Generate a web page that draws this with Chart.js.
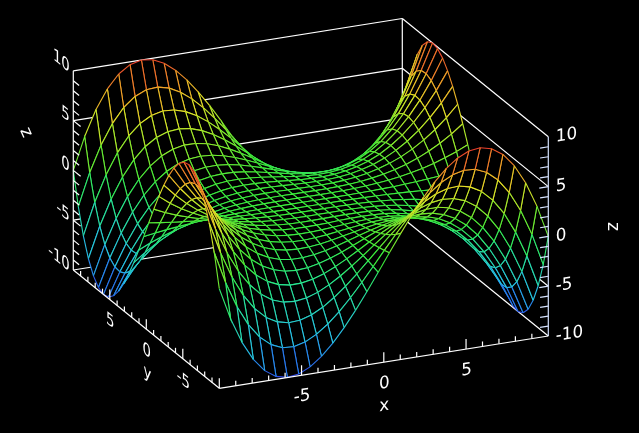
<!DOCTYPE html>
<html>
<head>
<meta charset="utf-8">
<style>
  html, body { margin: 0; padding: 0; background: #000; }
  canvas { display: block; }
</style>
<script src="https://cdn.jsdelivr.net/npm/chart.js@4/dist/chart.umd.js"></script>
</head>
<body>
<canvas id="grafico" width="639" height="433"></canvas>
<script>
// grid of the surface
const gridX = [-10, -9.31, -8.62, -7.93, -7.24, -6.55, -5.86, -5.17, -4.48, -3.79, -3.10, -2.41, -1.72, -1.03, -0.34, 0.34, 1.03, 1.72, 2.41, 3.10, 3.79, 4.48, 5.17, 5.86, 6.55, 7.24, 7.93, 8.62, 9.31, 10];
const gridY = [-10, -9.31, -8.62, -7.93, -7.24, -6.55, -5.86, -5.17, -4.48, -3.79, -3.10, -2.41, -1.72, -1.03, -0.34, 0.34, 1.03, 1.72, 2.41, 3.10, 3.79, 4.48, 5.17, 5.86, 6.55, 7.24, 7.93, 8.62, 9.31, 10];

// z heights, one row per gridY value, one column per gridX value
const zRows = [
  [0,-3.22,-5.75,-7.64,-8.95,-9.71,-9.99,-9.84,-9.30,-8.43,-7.28,-5.90,-4.35,-2.66,-0.89,0.89,2.66,4.35,5.90,7.28,8.43,9.30,9.84,9.99,9.71,8.95,7.64,5.75,3.22,0],
  [3.22,0,-2.58,-4.56,-6.00,-6.93,-7.42,-7.50,-7.22,-6.63,-5.78,-4.72,-3.49,-2.14,-0.72,0.72,2.14,3.49,4.72,5.78,6.63,7.22,7.50,7.42,6.93,6.00,4.56,2.58,0,-3.22],
  [5.75,2.58,0,-2.03,-3.55,-4.61,-5.24,-5.51,-5.44,-5.09,-4.50,-3.70,-2.75,-1.70,-0.57,0.57,1.70,2.75,3.70,4.50,5.09,5.44,5.51,5.24,4.61,3.55,2.03,0,-2.58,-5.75],
  [7.64,4.56,2.03,0,-1.56,-2.70,-3.45,-3.85,-3.95,-3.79,-3.41,-2.84,-2.13,-1.32,-0.45,0.45,1.32,2.13,2.84,3.41,3.79,3.95,3.85,3.45,2.70,1.56,0,-2.03,-4.56,-7.64],
  [8.95,6.00,3.55,1.56,0,-1.17,-1.99,-2.50,-2.73,-2.71,-2.50,-2.12,-1.60,-1.00,-0.34,0.34,1.00,1.60,2.12,2.50,2.71,2.73,2.50,1.99,1.17,0,-1.56,-3.55,-6.00,-8.95],
  [9.71,6.93,4.61,2.70,1.17,0,-0.85,-1.42,-1.74,-1.84,-1.76,-1.52,-1.17,-0.74,-0.25,0.25,0.74,1.17,1.52,1.76,1.84,1.74,1.42,0.85,0,-1.17,-2.70,-4.61,-6.93,-9.71],
  [9.99,7.42,5.24,3.45,1.99,0.85,0,-0.60,-0.97,-1.15,-1.17,-1.05,-0.82,-0.52,-0.18,0.18,0.52,0.82,1.05,1.17,1.15,0.97,0.60,0,-0.85,-1.99,-3.45,-5.24,-7.42,-9.99],
  [9.84,7.50,5.51,3.85,2.50,1.42,0.60,0,-0.40,-0.63,-0.71,-0.68,-0.55,-0.36,-0.12,0.12,0.36,0.55,0.68,0.71,0.63,0.40,0,-0.60,-1.42,-2.50,-3.85,-5.51,-7.50,-9.84],
  [9.30,7.22,5.44,3.95,2.73,1.74,0.97,0.40,0,-0.25,-0.38,-0.40,-0.34,-0.23,-0.08,0.08,0.23,0.34,0.40,0.38,0.25,0,-0.40,-0.97,-1.74,-2.73,-3.95,-5.44,-7.22,-9.30],
  [8.43,6.63,5.09,3.79,2.71,1.84,1.15,0.63,0.25,0,-0.15,-0.20,-0.19,-0.14,-0.05,0.05,0.14,0.19,0.20,0.15,0,-0.25,-0.63,-1.15,-1.84,-2.71,-3.79,-5.09,-6.63,-8.43],
  [7.28,5.78,4.50,3.41,2.50,1.76,1.17,0.71,0.38,0.15,0,-0.07,-0.09,-0.07,-0.03,0.03,0.07,0.09,0.07,0,-0.15,-0.38,-0.71,-1.17,-1.76,-2.50,-3.41,-4.50,-5.78,-7.28],
  [5.90,4.72,3.70,2.84,2.12,1.52,1.05,0.68,0.40,0.20,0.07,0,-0.03,-0.03,-0.01,0.01,0.03,0.03,0,-0.07,-0.20,-0.40,-0.68,-1.05,-1.52,-2.12,-2.84,-3.70,-4.72,-5.90],
  [4.35,3.49,2.75,2.13,1.60,1.17,0.82,0.55,0.34,0.19,0.09,0.03,0,-0.01,0,0,0.01,0,-0.03,-0.09,-0.19,-0.34,-0.55,-0.82,-1.17,-1.60,-2.13,-2.75,-3.49,-4.35],
  [2.66,2.14,1.70,1.32,1.00,0.74,0.52,0.36,0.23,0.14,0.07,0.03,0.01,0,0,0,0,-0.01,-0.03,-0.07,-0.14,-0.23,-0.36,-0.52,-0.74,-1.00,-1.32,-1.70,-2.14,-2.66],
  [0.89,0.72,0.57,0.45,0.34,0.25,0.18,0.12,0.08,0.05,0.03,0.01,0,0,0,0,0,0,-0.01,-0.03,-0.05,-0.08,-0.12,-0.18,-0.25,-0.34,-0.45,-0.57,-0.72,-0.89],
  [-0.89,-0.72,-0.57,-0.45,-0.34,-0.25,-0.18,-0.12,-0.08,-0.05,-0.03,-0.01,0,0,0,0,0,0,0.01,0.03,0.05,0.08,0.12,0.18,0.25,0.34,0.45,0.57,0.72,0.89],
  [-2.66,-2.14,-1.70,-1.32,-1.00,-0.74,-0.52,-0.36,-0.23,-0.14,-0.07,-0.03,-0.01,0,0,0,0,0.01,0.03,0.07,0.14,0.23,0.36,0.52,0.74,1.00,1.32,1.70,2.14,2.66],
  [-4.35,-3.49,-2.75,-2.13,-1.60,-1.17,-0.82,-0.55,-0.34,-0.19,-0.09,-0.03,0,0.01,0,0,-0.01,0,0.03,0.09,0.19,0.34,0.55,0.82,1.17,1.60,2.13,2.75,3.49,4.35],
  [-5.90,-4.72,-3.70,-2.84,-2.12,-1.52,-1.05,-0.68,-0.40,-0.20,-0.07,0,0.03,0.03,0.01,-0.01,-0.03,-0.03,0,0.07,0.20,0.40,0.68,1.05,1.52,2.12,2.84,3.70,4.72,5.90],
  [-7.28,-5.78,-4.50,-3.41,-2.50,-1.76,-1.17,-0.71,-0.38,-0.15,0,0.07,0.09,0.07,0.03,-0.03,-0.07,-0.09,-0.07,0,0.15,0.38,0.71,1.17,1.76,2.50,3.41,4.50,5.78,7.28],
  [-8.43,-6.63,-5.09,-3.79,-2.71,-1.84,-1.15,-0.63,-0.25,0,0.15,0.20,0.19,0.14,0.05,-0.05,-0.14,-0.19,-0.20,-0.15,0,0.25,0.63,1.15,1.84,2.71,3.79,5.09,6.63,8.43],
  [-9.30,-7.22,-5.44,-3.95,-2.73,-1.74,-0.97,-0.40,0,0.25,0.38,0.40,0.34,0.23,0.08,-0.08,-0.23,-0.34,-0.40,-0.38,-0.25,0,0.40,0.97,1.74,2.73,3.95,5.44,7.22,9.30],
  [-9.84,-7.50,-5.51,-3.85,-2.50,-1.42,-0.60,0,0.40,0.63,0.71,0.68,0.55,0.36,0.12,-0.12,-0.36,-0.55,-0.68,-0.71,-0.63,-0.40,0,0.60,1.42,2.50,3.85,5.51,7.50,9.84],
  [-9.99,-7.42,-5.24,-3.45,-1.99,-0.85,0,0.60,0.97,1.15,1.17,1.05,0.82,0.52,0.18,-0.18,-0.52,-0.82,-1.05,-1.17,-1.15,-0.97,-0.60,0,0.85,1.99,3.45,5.24,7.42,9.99],
  [-9.71,-6.93,-4.61,-2.70,-1.17,0,0.85,1.42,1.74,1.84,1.76,1.52,1.17,0.74,0.25,-0.25,-0.74,-1.17,-1.52,-1.76,-1.84,-1.74,-1.42,-0.85,0,1.17,2.70,4.61,6.93,9.71],
  [-8.95,-6.00,-3.55,-1.56,0,1.17,1.99,2.50,2.73,2.71,2.50,2.12,1.60,1.00,0.34,-0.34,-1.00,-1.60,-2.12,-2.50,-2.71,-2.73,-2.50,-1.99,-1.17,0,1.56,3.55,6.00,8.95],
  [-7.64,-4.56,-2.03,0,1.56,2.70,3.45,3.85,3.95,3.79,3.41,2.84,2.13,1.32,0.45,-0.45,-1.32,-2.13,-2.84,-3.41,-3.79,-3.95,-3.85,-3.45,-2.70,-1.56,0,2.03,4.56,7.64],
  [-5.75,-2.58,0,2.03,3.55,4.61,5.24,5.51,5.44,5.09,4.50,3.70,2.75,1.70,0.57,-0.57,-1.70,-2.75,-3.70,-4.50,-5.09,-5.44,-5.51,-5.24,-4.61,-3.55,-2.03,0,2.58,5.75],
  [-3.22,0,2.58,4.56,6.00,6.93,7.42,7.50,7.22,6.63,5.78,4.72,3.49,2.14,0.72,-0.72,-2.14,-3.49,-4.72,-5.78,-6.63,-7.22,-7.50,-7.42,-6.93,-6.00,-4.56,-2.58,0,3.22],
  [0,3.22,5.75,7.64,8.95,9.71,9.99,9.84,9.30,8.43,7.28,5.90,4.35,2.66,0.89,-0.89,-2.66,-4.35,-5.90,-7.28,-8.43,-9.30,-9.84,-9.99,-9.71,-8.95,-7.64,-5.75,-3.22,0]
];

// ticks of the three axes
const tickValues = [-10, -9, -8, -7, -6, -5, -4, -3, -2, -1, 0, 1, 2, 3, 4, 5, 6, 7, 8, 9, 10];
const majorValues = [-10, -5, 0, 5, 10];
const xLabels = [-5, 0, 5];
const yLabels = [-5, 0, 5];
const zLabels = [-10, -5, 0, 5, 10];

// colour of a line by its height, blue at the bottom and red at the top
const coresZ = [
  [-10, [50, 70, 235]], [-8.5, [40, 130, 240]], [-6.5, [40, 195, 230]], [-2.5, [40, 232, 140]],
  [0, [60, 235, 60]], [2.5, [140, 235, 45]], [5, [225, 230, 40]], [7.5, [242, 160, 40]], [10, [238, 60, 45]]
];

function corPorZ(z) {
  let i = 0;
  while (i < coresZ.length - 2 && z > coresZ[i + 1][0]) i++;
  const [z0, c0] = coresZ[i];
  const [z1, c1] = coresZ[i + 1];
  const t = Math.min(1, Math.max(0, (z - z0) / (z1 - z0)));
  const c = c0.map((v, k) => Math.round(v + (c1[k] - v) * t));
  return `rgb(${c[0]},${c[1]},${c[2]})`;
}

// view of the box, fixed projection from 3D into the flat chart scales
function projetar(x, y, z) {
  return {
    x: 219.3 + 16.45 * (x + 10) - 7.3 * (y + 10),
    y: 388.3 - 2.615 * (x + 10) - 5.915 * (y + 10) - 9.96 * (z + 10)
  };
}

const datasets = [];

function adicionarLinha(a, b, cor) {
  datasets.push({
    data: [projetar(...a), projetar(...b)],
    borderColor: cor,
    borderWidth: 1.2,
    fill: false
  });
}

// Chart.js paints the last dataset first, so go from the front of the picture to the back.

// front axes and their ticks
const BRANCO = '#ffffff';
const AZULADO = '#d5e2ff';
adicionarLinha([-10, -10, -10], [10, -10, -10], BRANCO);
adicionarLinha([-10, -10, -10], [-10, 10, -10], BRANCO);
adicionarLinha([-10, 10, -10], [-10, 10, 10], BRANCO);
adicionarLinha([10, -10, -10], [10, -10, 10], AZULADO);
tickValues.forEach(v => {
  const major = majorValues.includes(v);
  const alto = major ? -9 : -9.5;
  if (v < 10) adicionarLinha([v, -10, -10], [v, -10, alto], BRANCO);
  if (v > -10 && v < 10) adicionarLinha([-10, v, -10], [-10, v, alto], BRANCO);
  if (v > -10 && v < 10) {
    adicionarLinha([-10, 10, v], [-10, major ? 9 : 9.2, v], BRANCO);
    adicionarLinha([10, -10, v], [major ? 9.45 : 9.5, -10, v], AZULADO);
  }
});

// mesh, each cell a black shape with its coloured edges on top of it
for (let j = 0; j < gridY.length - 1; j++) {
  for (let i = 0; i < gridX.length - 1; i++) {
    const zs = [zRows[j][i], zRows[j][i + 1], zRows[j + 1][i + 1], zRows[j + 1][i], zRows[j][i]];
    const pontos = [
      projetar(gridX[i], gridY[j], zs[0]),
      projetar(gridX[i + 1], gridY[j], zs[1]),
      projetar(gridX[i + 1], gridY[j + 1], zs[2]),
      projetar(gridX[i], gridY[j + 1], zs[3]),
      projetar(gridX[i], gridY[j], zs[4])
    ];
    datasets.push({
      data: pontos,
      borderWidth: 1.1,
      borderColor: corPorZ(zs[0]),
      fill: false,
      segment: {
        borderColor: c => corPorZ((zs[c.p0DataIndex] + zs[c.p1DataIndex]) / 2)
      }
    });
    datasets.push({
      data: pontos,
      borderWidth: 0,
      backgroundColor: '#000000',
      fill: 'shape'
    });
  }
}

// back walls
majorValues.forEach(z => {
  adicionarLinha([-10, 10, z], [10, 10, z], BRANCO);
  adicionarLinha([10, 10, z], [10, -10, z], BRANCO);
});
adicionarLinha([10, 10, -10], [10, 10, 10], BRANCO);

// tick labels and titles, text lying in the plane of its wall
const textosEixos = {
  id: 'textosEixos',
  afterDraw(chart) {
    const { ctx, scales } = chart;
    function texto(str, p, dx, dy, base, align, rot) {
      ctx.save();
      ctx.translate(scales.x.getPixelForValue(p.x) + dx, scales.y.getPixelForValue(p.y) + dy);
      ctx.transform(base[0], base[1], 0, 1, 0, 0);
      if (rot) ctx.rotate(rot);
      ctx.font = '17px "DejaVu Sans"';
      ctx.fillStyle = '#ffffff';
      ctx.textAlign = align;
      ctx.textBaseline = 'middle';
      ctx.fillText(str, 0, 0);
      ctx.restore();
    }
    const planoXZ = [0.987, -0.157];
    const planoYZ = [0.78, 0.63];
    zLabels.forEach(z => {
      texto(String(z), projetar(-10, 10, z), -3.5, -2.5, planoYZ, 'right');
      texto(String(z), projetar(10, -10, z), 7.5, 0.5, planoXZ, 'left');
    });
    xLabels.forEach(x => texto(String(x), projetar(x, -10, -10), 0.5, 21.5, planoXZ, 'center'));
    yLabels.forEach(y => texto(String(y), projetar(-10, y, -10), 0.5, 22, planoYZ, 'center'));
    texto('x', projetar(0, -10, -10), 0.5, 44, planoXZ, 'center');
    texto('y', projetar(-10, 0, -10), 1, 44.5, planoYZ, 'center');
    texto('z', projetar(-10, 10, 0), -47.5, -38, [1, 0], 'center', 1.15);
    texto('z', projetar(10, -10, 0), 64, -10, [1, 0], 'center', Math.PI / 2);
  }
};

window.onload = () => {
  new Chart(document.getElementById('grafico'), {
    type: 'scatter',
    data: { datasets },
    options: {
      responsive: false,
      animation: false,
      devicePixelRatio: 1,
      events: [],
      showLine: true,
      layout: { padding: 0 },
      elements: { point: { radius: 0 } },
      plugins: { legend: { display: false }, tooltip: { enabled: false } },
      scales: {
        x: { type: 'linear', display: false, min: 0, max: 639 },
        y: { type: 'linear', display: false, min: 0, max: 433, reverse: true }
      }
    },
    plugins: [textosEixos]
  });
};
</script>
</body>
</html>
